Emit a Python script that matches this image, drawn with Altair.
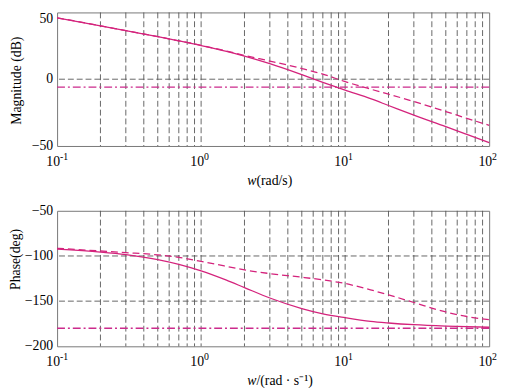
import altair as alt
import pandas as pd

# ---- data ----
freq = [0.1, 0.2, 0.3, 0.5, 0.7, 1, 1.5, 2, 3, 5, 7, 10, 15, 20, 30, 50, 70, 100]
mag_solid = [46.0, 40.0, 36.4, 31.9, 28.7, 25.2, 20.8, 17.3, 11.6, 3.4, -2.3, -8.2,
             -14.6, -19.7, -26.9, -35.5, -41.3, -47.5]
mag_dashed = [46.0, 40.0, 36.4, 31.9, 28.8, 25.4, 21.1, 17.8, 13.6, 8.0, 3.8, -1.8,
              -7.4, -11.2, -16.7, -24.2, -29.3, -34.5]
phase_solid = [-92.5, -95.7, -98.5, -104.0, -109.3, -116.5, -126.8, -135.0, -146.5,
               -158.2, -164.0, -168.3, -172.4, -174.2, -176.1, -177.6, -178.3, -178.9]
phase_dashed = [-91.5, -94.5, -96.3, -98.8, -101.5, -106.0, -111.5, -115.5, -119.5,
                -123.5, -126.5, -130.5, -137.5, -143.0, -151.5, -162.0, -167.0, -170.5]

grid_freq = [0.2, 0.3, 0.4, 0.5, 0.6, 0.7, 0.8, 0.9, 1, 2, 3, 4, 5, 6, 7, 8, 9,
             10, 20, 30, 40, 50, 60, 70, 80, 90]
decades = [0.1, 1, 10, 100]
decade_base = ["10", "10", "10", "10"]
decade_exp = ["-1", "0", "1", "2"]

mag_ticks = [-50, 0, 50]
mag_tick_labels = ["−50", "0", "50"]
mag_grid = [0]
mag_ref = [-6]
phase_ticks = [-200, -150, -100, -50]
phase_tick_labels = ["−200", "−150", "−100", "−50"]
phase_grid = [-100, -150]
phase_ref = [-180]

W = 440
FONT = "Liberation Serif"
GRID = "#555555"
PINK = "#d4237c"
PINK2 = "#cc2a8c"

xs = alt.Scale(type="log", domain=[0.1, 100], nice=False)


def panel(h, ydom, yticks, ylabels, flush_top, ygrid, yref, ysolid, ydashed, ytitle,
          title_x, title_y, xtitle_parts, xtitle_dy):
    ys = alt.Scale(domain=ydom, nice=False, zero=False)
    yax = alt.Axis(
        values=yticks, title=ytitle, domain=False, ticks=False, grid=False, labels=False,
        titleFont=FONT, titleFontSize=14, titleFontWeight="normal", titleColor="black",
        titleX=title_x, titleY=title_y, titleAngle=-90, titleBaseline="middle",
        titleAlign="center",
    )

    df = pd.DataFrame({"f": freq, "solid": ysolid, "dashed": ydashed})

    vgrid = alt.Chart(pd.DataFrame({"f": grid_freq})).mark_rule(
        color=GRID, strokeDash=[6, 3], strokeWidth=0.9
    ).encode(x=alt.X("f:Q", scale=xs, axis=None))
    hgrid = alt.Chart(pd.DataFrame({"y": ygrid})).mark_rule(
        color=GRID, strokeDash=[6, 3], strokeWidth=0.9
    ).encode(y=alt.Y("y:Q", scale=ys, axis=yax))
    ref = alt.Chart(pd.DataFrame({"y": yref})).mark_rule(
        color=PINK2, strokeDash=[8, 3, 2, 3], strokeWidth=1.3
    ).encode(y=alt.Y("y:Q", scale=ys, axis=yax))
    solid = alt.Chart(df).mark_line(color=PINK, strokeWidth=1.3, interpolate="monotone").encode(
        x=alt.X("f:Q", scale=xs, axis=None), y=alt.Y("solid:Q", scale=ys, axis=yax))
    dashed = alt.Chart(df).mark_line(color=PINK, strokeWidth=1.3, strokeDash=[7, 4],
                                     interpolate="monotone").encode(
        x=alt.X("f:Q", scale=xs, axis=None), y=alt.Y("dashed:Q", scale=ys, axis=yax))

    yl = pd.DataFrame({"v": yticks, "l": ylabels})
    yl_mid = yl[yl["v"] != flush_top]
    yl_top = yl[yl["v"] == flush_top]
    ymid = alt.Chart(yl_mid).mark_text(font=FONT, fontSize=14, align="right", baseline="middle",
                                       color="black").encode(
        x=alt.value(-4), y=alt.Y("v:Q", scale=ys, axis=yax), text="l:N")
    layers = [vgrid, hgrid, ref, solid, dashed, ymid]
    if len(yl_top):
        ytop = alt.Chart(yl_top).mark_text(font=FONT, fontSize=14, align="right", baseline="top",
                                           color="black").encode(
            x=alt.value(-4), y=alt.Y("v:Q", scale=ys, axis=yax), text="l:N")
        layers.append(ytop)

    lab = pd.DataFrame({"f": decades, "b": decade_base, "e": decade_exp})
    base = alt.Chart(lab).mark_text(font=FONT, fontSize=14, baseline="alphabetic",
                                    align="center", dx=-4, color="black").encode(
        x=alt.X("f:Q", scale=xs, axis=None), y=alt.value(h + 20), text="b:N")
    expo = alt.Chart(lab).mark_text(font=FONT, fontSize=10, baseline="alphabetic",
                                    align="left", dx=3, color="black").encode(
        x=alt.X("f:Q", scale=xs, axis=None), y=alt.value(h + 14), text="e:N")
    layers += [base, expo]

    for txt, xp, style, align in xtitle_parts:
        t = alt.Chart(pd.DataFrame({"t": [txt]})).mark_text(
            font=FONT, fontSize=14, fontStyle=style, align=align, baseline="alphabetic",
            color="black").encode(x=alt.value(xp), y=alt.value(h + xtitle_dy), text="t:N")
        layers.append(t)

    return alt.layer(*layers).properties(width=W, height=h)


top = panel(136, [-50, 50], mag_ticks, mag_tick_labels, 50, mag_grid, mag_ref,
            mag_solid, mag_dashed, "Magnitude (dB)", -41, 69,
            [("w", 203, "italic", "right"), ("(rad/s)", 203, "normal", "left")], 40)
bottom = panel(138, [-200, -50], phase_ticks, phase_tick_labels, None, phase_grid, phase_ref,
               phase_solid, phase_dashed, "Phase(deg)", -42, 49,
               [("w", 203, "italic", "right"), ("/(rad · s⁻¹)", 203, "normal", "left")], 39)

chart = alt.vconcat(top, bottom, spacing=14).properties(
    padding={"top": 0, "left": 0, "right": 0, "bottom": 0},
    autosize=alt.AutoSizeParams(type="pad", contains="padding"),
).configure(
    font=FONT, padding=0
).configure_view(stroke="#777777", strokeWidth=1)

chart.save("out.html", embed_options={"renderer": "svg", "actions": False})
